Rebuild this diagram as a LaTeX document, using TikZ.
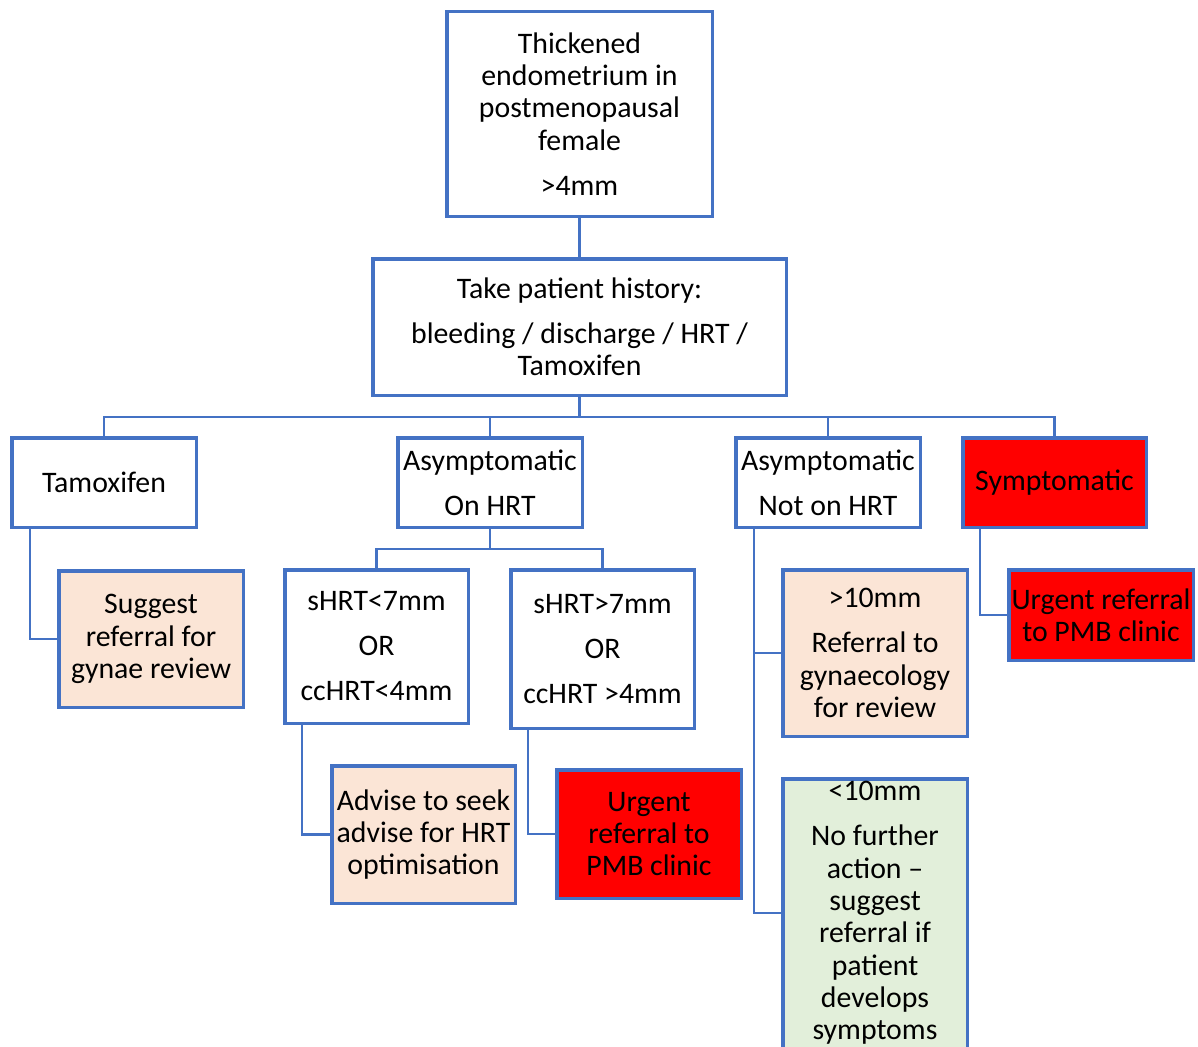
\documentclass[tikz,border=0pt]{standalone}
\usepackage{fontspec}
\setmainfont{Carlito}
\begin{document}
\definecolor{bdr}{HTML}{4472C4}
\definecolor{peach}{HTML}{FBE5D6}
\definecolor{mint}{HTML}{E2EFDA}
\definecolor{alarm}{HTML}{FF0000}
\begin{tikzpicture}[x=1pt,y=-1pt,
  box/.style={draw=bdr, line width=3.5pt, inner sep=0pt, align=center,
    font=\fontsize{29.8}{32.3}\selectfont},
  sz/.style 2 args={minimum width=#1, minimum height=#2},
  peachbox/.style={box, fill=peach},
  mintbox/.style={box, fill=mint},
  alarmbox/.style={box, fill=alarm},
  plain/.style={inner sep=0pt, align=center, font=\fontsize{29.8}{32.3}\selectfont},
  link/.style={draw=bdr, line width=2.2pt}]
\clip (0,0) rectangle (1198,1046);
\fill[white] (0,0) rectangle (1198,1046);

% main chain
\node[box, sz={265.5pt}{204.5pt}] (top) at (579.5,114)
  {Thickened\\endometrium in\\postmenopausal\\female\\[12.7pt]>4mm};
\node[box, sz={413.5pt}{136.5pt}] (hist) at (579.5,327)
  {Take patient history:\\[12.7pt]bleeding / discharge / HRT /\\Tamoxifen};

% first level
\node[box, sz={184.5pt}{89.5pt}] (tam) at (104,482.5) {Tamoxifen};
\node[box, sz={184.5pt}{89.5pt}] (onhrt) at (490,482.5) {Asymptomatic\\[12.7pt]On HRT};
\node[box, sz={184.5pt}{89.5pt}] (noth) at (828,482.5) {Asymptomatic\\[12.7pt]Not on HRT};
\node[alarmbox, sz={183.5pt}{89.5pt}] (sym) at (1054.5,482.5) {Symptomatic};

% second level
\node[peachbox, sz={184.5pt}{136.5pt}] (sug) at (151,639)
  {Suggest\\referral for\\gynae review};
\node[box, sz={183.5pt}{153.5pt}] (lt7) at (376.5,646.5)
  {sHRT<7mm\\[12.7pt]OR\\[12.7pt]ccHRT<4mm};
\node[box, sz={183.5pt}{158.5pt}] (gt7) at (602.5,649)
  {sHRT>7mm\\[12.7pt]OR\\[12.7pt]ccHRT >4mm};
\node[peachbox, sz={184.5pt}{166.5pt}] (gt10) at (875,653)
  {>10mm\\[12.7pt]Referral to\\gynaecology\\for review};
\node[alarmbox, sz={184.5pt}{90.5pt}] (urg2) at (1101,615)
  {Urgent referral\\to PMB clinic};

% third level
\node[peachbox, sz={183.5pt}{137.5pt}] (adv) at (423.5,834.5)
  {Advise to seek\\advise for HRT\\optimisation};
\node[alarmbox, sz={184.5pt}{128.5pt}] (urg1) at (649,834)
  {Urgent\\referral to\\PMB clinic};
% the last box runs past the lower page edge
\node[mintbox, sz={184.5pt}{296.5pt}] (lt10) at (875,927) {};
\node[plain] (lt10txt) at (875,913)
  {<10mm\\[12.7pt]No further\\action --\\suggest\\referral if\\patient\\develops\\symptoms};

% connectors
\draw[link] (top.south) -- (hist.north);
\draw[link] (hist.south) -- ++(0,20) coordinate (bus);
\draw[link] (tam.north) |- (bus) -| (sym.north);
\draw[link] (onhrt.north) -- (onhrt.north |- bus);
\draw[link] (noth.north) -- (noth.north |- bus);

\draw[link] (onhrt.south) -- ++(0,20) coordinate (split);
\draw[link] (lt7.north) |- (split) -| (gt7.north);

\draw[link] ([xshift=20pt]tam.south west) |- (sug.west);
\draw[link] ([xshift=19pt]lt7.south west) |- (adv.west);
\draw[link] ([xshift=19pt]gt7.south west) |- (urg1.west);
\draw[link] ([xshift=20pt]noth.south west) |- (lt10txt.west -| lt10.west);
\draw[link] ([xshift=20pt]noth.south west |- gt10.west) -- (gt10.west);
\draw[link] ([xshift=19pt]sym.south west) |- (urg2.west);
\end{tikzpicture}
\end{document}
